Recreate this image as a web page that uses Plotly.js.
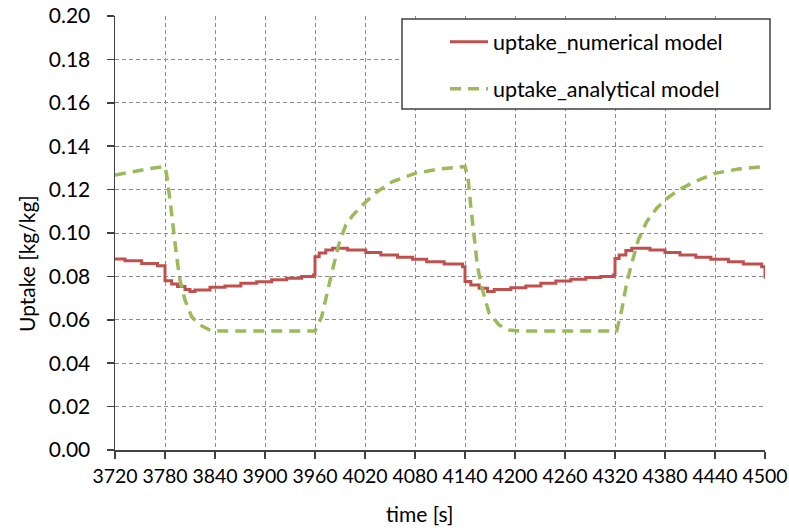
<!DOCTYPE html>
<html>
<head>
<meta charset="utf-8">
<script src="https://cdn.plot.ly/plotly-3.0.1.min.js"></script>
<style>
html,body{margin:0;padding:0;background:#fff;}
#chart{width:789px;height:528px;}
</style>
</head>
<body>
<div id="chart"></div>
<script>
// numerical model (step-wise), each value holds from its time to the next time
var tNum = [3720, 3732, 3752, 3771, 3780, 3788, 3795, 3804, 3810, 3816, 3834, 3852, 3871, 3890, 3908, 3926, 3944, 3958,
            3960, 3965, 3973, 3981, 3999, 4021, 4039, 4059, 4077, 4094, 4115, 4137,
            4140, 4147, 4157, 4167, 4175, 4195, 4213, 4231, 4249, 4267, 4285, 4303, 4318,
            4320, 4325, 4333, 4340, 4362, 4380, 4398, 4417, 4435, 4456, 4474, 4496, 4500];
var uptakeNum = [0.0880, 0.0872, 0.0860, 0.0849, 0.0780, 0.0765, 0.0753, 0.0740, 0.0730, 0.0737, 0.0750, 0.0756, 0.0768, 0.0775, 0.0785, 0.0792, 0.0800, 0.0806,
                 0.0890, 0.0908, 0.0922, 0.0930, 0.0922, 0.0910, 0.0899, 0.0888, 0.0879, 0.0868, 0.0857, 0.0845,
                 0.0776, 0.0760, 0.0745, 0.0730, 0.0740, 0.0748, 0.0756, 0.0768, 0.0779, 0.0787, 0.0795, 0.0800, 0.0806,
                 0.0883, 0.0899, 0.0919, 0.0930, 0.0922, 0.0910, 0.0899, 0.0888, 0.0879, 0.0868, 0.0857, 0.0845, 0.0790];

// analytical model
var tAna = [3720, 3740, 3760, 3780, 3782, 3786, 3790, 3794, 3798, 3804, 3812, 3822, 3834, 3846, 3900, 3960,
            3968, 3975, 3981, 3989, 3997, 4005, 4017, 4033, 4053, 4081, 4109, 4140,
            4144, 4147, 4151, 4155, 4161, 4169, 4181, 4193, 4205, 4260, 4322,
            4328, 4334, 4340, 4348, 4358, 4370, 4380, 4396, 4416, 4440, 4468, 4500];
var uptakeAna = [0.1267, 0.1283, 0.1296, 0.1306, 0.1267, 0.1152, 0.1014, 0.0890, 0.0783, 0.0691, 0.0614, 0.0576, 0.0553, 0.0548, 0.0548, 0.0548,
                 0.0614, 0.0737, 0.0830, 0.0953, 0.1037, 0.1080, 0.1129, 0.1186, 0.1237, 0.1276, 0.1295, 0.1306,
                 0.1240, 0.1120, 0.0983, 0.0845, 0.0737, 0.0630, 0.0576, 0.0553, 0.0548, 0.0548, 0.0548,
                 0.0645, 0.0768, 0.0860, 0.0968, 0.1052, 0.1114, 0.1152, 0.1198, 0.1237, 0.1275, 0.1295, 0.1306];

var seriesNames = ['uptake_numerical model', 'uptake_analytical model'];
var xTitle = 'time [s]';
var yTitle = 'Uptake [kg/kg]';

var FONT = 'Lato, "Open Sans", sans-serif';
var L = 115, R = 24, T = 16, B = 78;
var PW = 789 - L - R, PH = 528 - T - B;
function px(x) { return (x - L) / PW; }
function py(y) { return 1 - (y - T) / PH; }

var traces = [
  {x: tNum, y: uptakeNum, name: seriesNames[0], type: 'scatter', mode: 'lines',
   line: {color: '#C0504D', width: 3, shape: 'hv'}, legendgroup: 'a'},
  {x: tAna, y: uptakeAna, name: seriesNames[1], type: 'scatter', mode: 'lines',
   line: {color: '#9BBB59', width: 3.5, dash: '11px,7px'}, legendgroup: 'b'}
];

var layout = {
  width: 789, height: 528,
  margin: {l: L, r: R, t: T, b: B},
  paper_bgcolor: '#fff', plot_bgcolor: '#fff',
  font: {family: FONT, size: 21, color: '#000'},
  showlegend: true,
  legend: {
    x: px(445), y: 0.988, xanchor: 'left', yanchor: 'top',
    bgcolor: 'rgba(0,0,0,0)', borderwidth: 0,
    font: {family: FONT, size: 21.5, color: '#000'},
    tracegroupgap: 16, traceorder: 'grouped', itemwidth: 38
  },
  xaxis: {
    range: [3720, 4500], tick0: 3720, dtick: 60, tickmode: 'linear', tickangle: 0,
    showline: true, linecolor: '#404040', linewidth: 1.5,
    ticks: 'outside', ticklen: 7, tickcolor: '#404040', tickwidth: 1.5,
    showgrid: true, gridcolor: '#8c8c8c', gridwidth: 1, griddash: '4px,3px',
    zeroline: false, ticklabelstandoff: 1, ticklabeloverflow: 'allow',
    tickfont: {family: FONT, size: 19.5, color: '#000'}
  },
  yaxis: {
    range: [0, 0.2], tick0: 0, dtick: 0.02, tickmode: 'linear', tickformat: '.2f',
    showline: true, linecolor: '#404040', linewidth: 1.5,
    ticks: 'outside', ticklen: 7, tickcolor: '#404040', tickwidth: 1.5,
    showgrid: true, gridcolor: '#8c8c8c', gridwidth: 1, griddash: '4px,3px',
    zeroline: false, ticklabelstandoff: 12, ticklabeloverflow: 'allow',
    tickfont: {family: FONT, size: 21, color: '#000'}
  },
  shapes: [
    {type: 'rect', xref: 'paper', yref: 'paper', layer: 'above',
     x0: px(402), x1: px(770), y0: py(109), y1: py(19),
     line: {color: '#404040', width: 1.5}, fillcolor: '#ffffff'}
  ],
  annotations: [
    {text: xTitle, xref: 'paper', yref: 'paper', x: px(419), y: py(513),
     xanchor: 'center', yanchor: 'middle', showarrow: false,
     font: {family: FONT, size: 21, color: '#000'}},
    {text: yTitle, xref: 'paper', yref: 'paper', x: px(26), y: py(264),
     xanchor: 'center', yanchor: 'middle', showarrow: false, textangle: -90,
     font: {family: FONT, size: 21, color: '#000'}}
  ]
};

Plotly.newPlot('chart', traces, layout, {staticPlot: true, displayModeBar: false});
</script>
</body>
</html>
